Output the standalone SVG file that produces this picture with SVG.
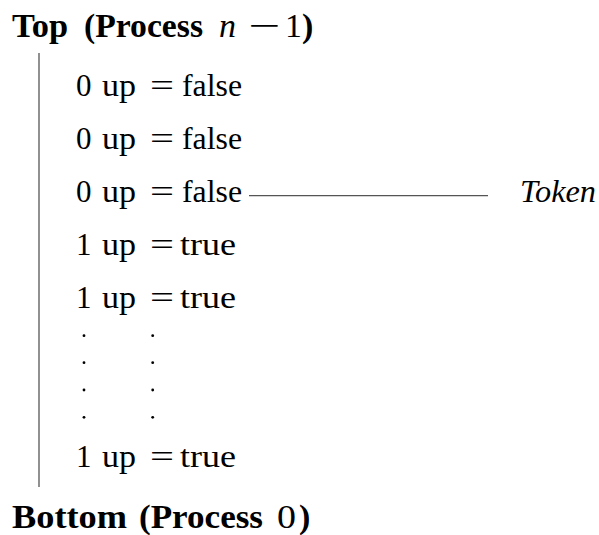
<svg xmlns="http://www.w3.org/2000/svg" width="599" height="535" viewBox="0 0 599 535">
<style>
text{font-family:"Liberation Serif","DejaVu Serif",serif;fill:#000}
.h{font-size:34px;font-weight:bold}
.n{font-size:34px;font-weight:normal}
.r{font-size:31px}
.i{font-style:italic}
.ln{stroke:#555;stroke-width:1.3;fill:none}
.d{fill:#000}
</style>
<rect width="599" height="535" fill="#fff"/>
<g id="top">
<text class="h" x="12" y="37" textLength="56" lengthAdjust="spacingAndGlyphs">Top</text>
<text class="h" x="84" y="37" textLength="119" lengthAdjust="spacingAndGlyphs">(Process</text>
<text class="n i" x="219" y="37">n</text>
<text class="n" x="248" y="37" textLength="32" lengthAdjust="spacingAndGlyphs">−</text>
<text class="n" x="285" y="37">1</text>
<text class="h" x="302" y="37">)</text>
</g>
<g id="rows">
<g id="row1"><text class="r" x="76" y="96">0</text><text class="r" x="102" y="96" textLength="34" lengthAdjust="spacingAndGlyphs">up</text><text class="r" x="150" y="96" textLength="24" lengthAdjust="spacingAndGlyphs">=</text><text class="r" x="182" y="96" textLength="60" lengthAdjust="spacingAndGlyphs">false</text></g>
<g id="row2"><text class="r" x="76" y="149">0</text><text class="r" x="102" y="149" textLength="34" lengthAdjust="spacingAndGlyphs">up</text><text class="r" x="150" y="149" textLength="24" lengthAdjust="spacingAndGlyphs">=</text><text class="r" x="182" y="149" textLength="60" lengthAdjust="spacingAndGlyphs">false</text></g>
<g id="row3"><text class="r" x="76" y="202">0</text><text class="r" x="102" y="202" textLength="34" lengthAdjust="spacingAndGlyphs">up</text><text class="r" x="150" y="202" textLength="24" lengthAdjust="spacingAndGlyphs">=</text><text class="r" x="182" y="202" textLength="60" lengthAdjust="spacingAndGlyphs">false</text></g>
<g id="row4"><text class="r" x="76" y="255">1</text><text class="r" x="102" y="255" textLength="34" lengthAdjust="spacingAndGlyphs">up</text><text class="r" x="150" y="255" textLength="24" lengthAdjust="spacingAndGlyphs">=</text><text class="r" x="180" y="255" textLength="56" lengthAdjust="spacingAndGlyphs">true</text></g>
<g id="row5"><text class="r" x="76" y="308">1</text><text class="r" x="102" y="308" textLength="34" lengthAdjust="spacingAndGlyphs">up</text><text class="r" x="150" y="308" textLength="24" lengthAdjust="spacingAndGlyphs">=</text><text class="r" x="180" y="308" textLength="56" lengthAdjust="spacingAndGlyphs">true</text></g>
<g id="dots">
<circle class="d" cx="84" cy="335.7" r="1.4"/><circle class="d" cx="152.7" cy="335.7" r="1.4"/>
<circle class="d" cx="84" cy="362.7" r="1.4"/><circle class="d" cx="152.7" cy="362.7" r="1.4"/>
<circle class="d" cx="84" cy="390" r="1.4"/><circle class="d" cx="152.7" cy="390" r="1.4"/>
<circle class="d" cx="84" cy="417.3" r="1.4"/><circle class="d" cx="152.7" cy="417.3" r="1.4"/>
</g>
<g id="row6"><text class="r" x="76" y="467">1</text><text class="r" x="102" y="467" textLength="34" lengthAdjust="spacingAndGlyphs">up</text><text class="r" x="150" y="467" textLength="24" lengthAdjust="spacingAndGlyphs">=</text><text class="r" x="180" y="467" textLength="56" lengthAdjust="spacingAndGlyphs">true</text></g>
</g>
<g id="token"><text class="r i" x="520" y="202" textLength="76" lengthAdjust="spacingAndGlyphs">Token</text></g>
<g id="bottom">
<text class="h" x="12" y="528" textLength="115" lengthAdjust="spacingAndGlyphs">Bottom</text>
<text class="h" x="139" y="528" textLength="124" lengthAdjust="spacingAndGlyphs">(Process</text>
<text class="n" x="277" y="528" textLength="19" lengthAdjust="spacingAndGlyphs">0</text>
<text class="h" x="299" y="528">)</text>
</g>
<g id="connectors">
<line class="ln" x1="39" y1="53" x2="39" y2="487"/>
<line class="ln" x1="249" y1="195.7" x2="488" y2="195.7"/>
</g>
</svg>
